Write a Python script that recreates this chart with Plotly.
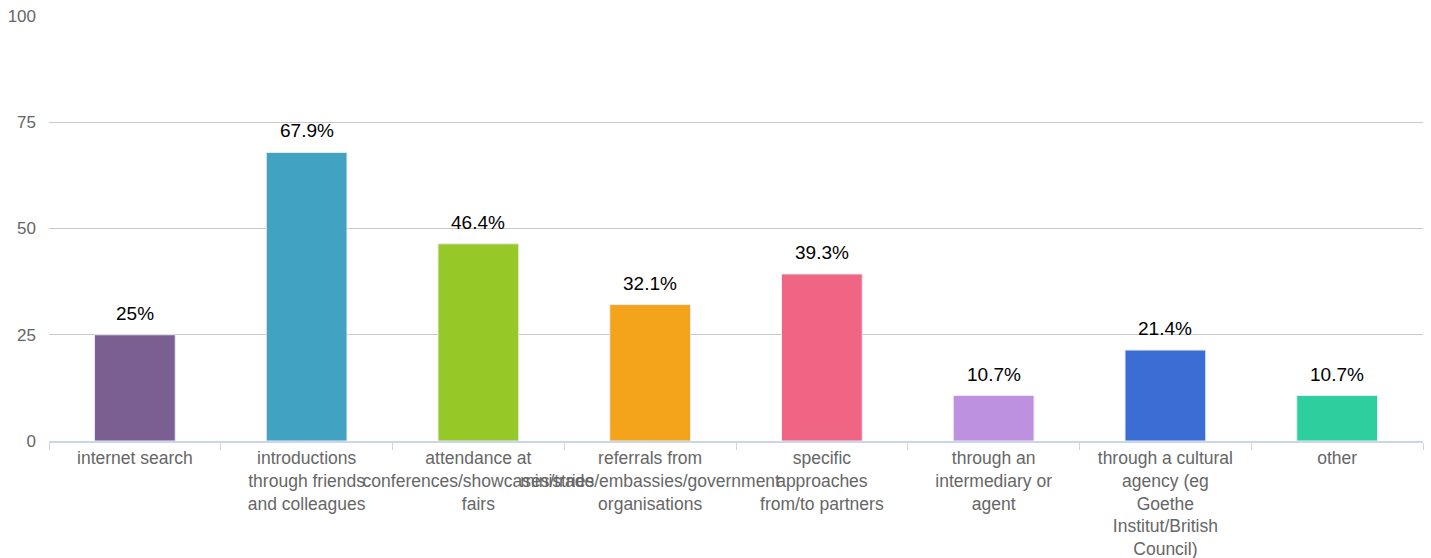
import plotly.graph_objects as go

# Survey: how partners were found (percentage of respondents)
categories = [
    "internet search",
    "introductions<br>through friends<br>and colleagues",
    "attendance at<br>conferences/showcases/trade<br>fairs",
    "referrals from<br>ministries/embassies/government<br>organisations",
    "specific<br>approaches<br>from/to partners",
    "through an<br>intermediary or<br>agent",
    "through a cultural<br>agency (eg<br>Goethe<br>Institut/British<br>Council)",
    "other",
]
values = [25, 67.9, 46.4, 32.1, 39.3, 10.7, 21.4, 10.7]
value_labels = ["25%", "67.9%", "46.4%", "32.1%", "39.3%", "10.7%", "21.4%", "10.7%"]
bar_colors = [
    "#7b5f92", "#41a2c2", "#96c928", "#f4a41b",
    "#f06584", "#bd90e0", "#3b6dd4", "#2ecf9f",
]
y_ticks = [0, 25, 50, 75, 100]

font_family = "Liberation Sans, Arial, Helvetica, sans-serif"

fig = go.Figure(
    go.Bar(
        x=categories,
        y=values,
        marker=dict(color=bar_colors, line=dict(color="#e8ecf5", width=1)),
        hoverinfo="skip",
    )
)

# value labels floating above each bar
for cat, val, lab in zip(categories, values, value_labels):
    fig.add_annotation(
        x=cat,
        y=val,
        text=lab,
        showarrow=False,
        yanchor="bottom",
        yshift=9,
        font=dict(family=font_family, size=19, color="#000000"),
    )

fig.update_layout(
    width=1431,
    height=558,
    margin=dict(l=49, r=8, t=16, b=117),
    paper_bgcolor="white",
    plot_bgcolor="white",
    bargap=0.53,
    showlegend=False,
    font=dict(family=font_family, size=17, color="#666666"),
)

fig.update_xaxes(
    automargin=False,
    showline=True,
    linecolor="#ccd6eb",
    linewidth=2,
    ticks="outside",
    tickson="boundaries",
    ticklen=7,
    tickcolor="#ccd6eb",
    tickwidth=1,
    showgrid=False,
    tickangle=0,
    tickfont=dict(size=17.5, color="#666666"),
)

fig.update_yaxes(
    automargin=False,
    range=[0, 100],
    tickvals=y_ticks,
    showgrid=True,
    gridcolor="#c8c8c8",
    gridwidth=1,
    zeroline=False,
    showline=False,
    ticks="",
    ticklabelstandoff=12,
    tickfont=dict(size=17, color="#666666"),
)

fig.write_html("out.html")
